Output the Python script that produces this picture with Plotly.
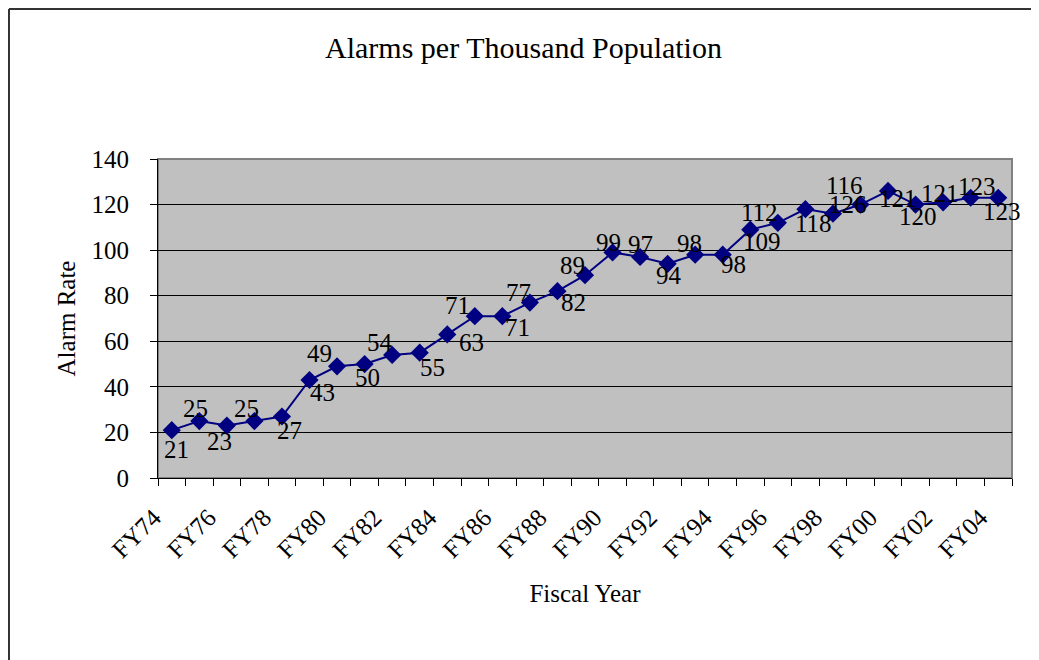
import plotly.graph_objects as go

years = ["FY74","FY75","FY76","FY77","FY78","FY79","FY80","FY81","FY82","FY83",
         "FY84","FY85","FY86","FY87","FY88","FY89","FY90","FY91","FY92","FY93",
         "FY94","FY95","FY96","FY97","FY98","FY99","FY00","FY01","FY02","FY03","FY04"]
alarm_rate = [21, 25, 23, 25, 27, 43, 49, 50, 54, 55,
              63, 71, 71, 77, 82, 89, 99, 97, 94, 98,
              98, 109, 112, 118, 116, 120, 126, 120, 121, 123, 123]
point_labels = ["21","25","23","25","27","43","49","50","54","55",
                "63","71","71","77","82","89","99","97","94","98",
                "98","109","112","118","116","126","121","120","121","123","123"]
y_ticks = [0, 20, 40, 60, 80, 100, 120, 140]

# label placement style: pixel offset (right, down) of each data label from its marker
label_dx = [5, -4, -7, -8, 8, 13, -18, 3, -12, 13,
            24, -17, 15, -11, 16, -13, -4, 0, 1, -6,
            11, 12, -18, 8, 12, -12, 10, 2, -3, 6, 4]
label_dy = [19, -13, 16, -13, 14, 12, -13, 13, -12, 15,
            8, -11, 11, -10, 11, -10, -10, -12, 12, -11,
            10, 12, -10, 14, -28, 0, 8, 12, -9, -11, 14]

xi = list(range(len(years)))
FONT = "Liberation Serif"

fig = go.Figure()
fig.add_trace(go.Scatter(
    x=xi, y=alarm_rate, mode="lines+markers",
    line=dict(color="#000080", width=2),
    marker=dict(symbol="diamond", size=14, color="#000080"),
    cliponaxis=False, showlegend=False,
))

annotations = [
    dict(x=x, y=v, text=t, showarrow=False, xshift=dx, yshift=-dy,
         xanchor="center", yanchor="middle",
         font=dict(family=FONT, size=25, color="black"))
    for x, v, t, dx, dy in zip(xi, alarm_rate, point_labels, label_dx, label_dy)
]

# page body has an 8px offset; figure sized so plot area lands where the reference has it
fig.update_layout(
    width=1031, height=652,
    margin=dict(l=150, r=27, t=151, b=182),
    paper_bgcolor="white", plot_bgcolor="#C0C0C0",
    font=dict(family=FONT, size=25, color="black"),
    title=dict(text="Alarms per Thousand Population", x=0.5, xanchor="center",
               y=1 - 39 / 652, yanchor="middle", font=dict(family=FONT, size=30)),
    annotations=annotations,
    shapes=[
        # outer chart frame (top and left edges visible)
        dict(type="line", xref="paper", yref="paper", x0=-0.1745, x1=1.05, y0=1.47, y1=1.47,
             line=dict(color="#333333", width=2), layer="below"),
        dict(type="line", xref="paper", yref="paper", x0=-0.1745, x1=-0.1745, y0=-0.7, y1=1.47,
             line=dict(color="#333333", width=2), layer="below"),
        # plot-area border
        dict(type="rect", xref="paper", yref="paper", x0=0, x1=1, y0=0, y1=1,
             line=dict(color="#808080", width=2), fillcolor="rgba(0,0,0,0)", layer="below"),
    ],
)

fig.update_xaxes(
    range=[-0.5, len(years) - 0.5],
    tickmode="array", tickvals=xi[::2], ticktext=years[::2],
    tickangle=-45, ticks="", showgrid=False, zeroline=False,
    showline=True, linecolor="black", linewidth=1,
    tickfont=dict(family=FONT, size=25),
    ticklabelstandoff=14, ticklabelshift=-18,
    minor=dict(tick0=-0.5, dtick=1, ticks="outside", ticklen=7, tickcolor="black", showgrid=False),
    title=dict(text="Fiscal Year", font=dict(family=FONT, size=25), standoff=22),
)
fig.update_yaxes(
    range=[0, 140], tickmode="array", tickvals=y_ticks,
    ticks="outside", ticklen=7, tickcolor="black",
    showgrid=True, gridcolor="black", gridwidth=1, zeroline=False,
    showline=True, linecolor="black", linewidth=1,
    tickfont=dict(family=FONT, size=25),
    ticklabelstandoff=16,
    title=dict(text="Alarm Rate", font=dict(family=FONT, size=25), standoff=8),
)

fig.write_html("out.html")
